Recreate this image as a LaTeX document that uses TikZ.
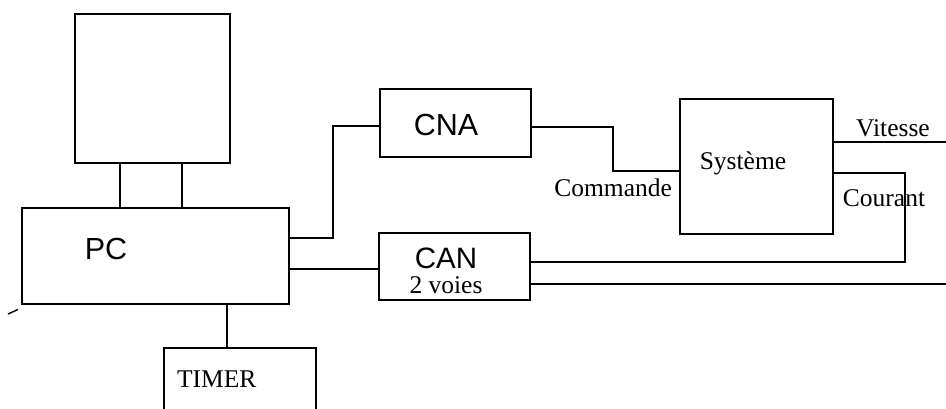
\documentclass[tikz,border=0pt]{standalone}
\usepackage{fontspec}
\setmainfont{Liberation Serif}
\newfontfamily\labsans{Liberation Sans}
\usetikzlibrary{calc}
\begin{document}
\begin{tikzpicture}[x=1pt,y=-1pt,
  line width=2.2pt,
  blk/.style={draw,rectangle,inner sep=0pt,outer sep=0pt},
  sanslbl/.style={font=\labsans\fontsize{30.5}{34}\selectfont,inner sep=0pt},
  seriflbl/.style={font=\fontsize{25.5}{29}\selectfont,inner sep=0pt}]
\useasboundingbox (0,0) rectangle (946,409);
\clip (0,0) rectangle (946,409);

% blocks
\node[blk,minimum width=155pt,minimum height=149pt] (mon) at (152.5,88.5) {};
\node[blk,minimum width=267pt,minimum height=96pt] (pc) at (155.5,256) {};
\node[blk,minimum width=152pt,minimum height=90pt] (timer) at (240,393) {};
\node[blk,minimum width=151pt,minimum height=68pt] (cna) at (455.5,123) {};
\node[blk,minimum width=151pt,minimum height=67pt] (can) at (454.5,266.5) {};
\node[blk,minimum width=153pt,minimum height=135pt] (sys) at (756.5,166.5) {};

% block texts
\node[sanslbl] (pctxt) at (106,249) {PC};
\node[seriflbl,anchor=west] (timertxt) at (176,379) {TIMER};
\node[sanslbl] (cnatxt) at (446,125) {CNA};
\node[sanslbl,font=\labsans\fontsize{29.5}{33}\selectfont,anchor=base,text depth=0pt] (cantxt) at (446,268) {CAN};
\node[seriflbl,anchor=base,text height=17pt,text depth=0pt] (voies) at (446,293) {2 voies};
\node[seriflbl] (systxt) at (743,163) {Système};

% monitor to PC
\coordinate (m1) at ($(mon.south west)!0.29!(mon.south east)$);
\coordinate (m2) at ($(mon.south west)!0.69!(mon.south east)$);
\draw (m1) -- (m1 |- pc.north);
\draw (m2) -- (m2 |- pc.north);

% PC to timer
\coordinate (t1) at ($(pc.south west)!0.768!(pc.south east)$);
\draw (t1) -- (t1 |- timer.north);

% PC to converters
\draw ([yshift=18pt]pc.east) -- ++(44,0) |- ([yshift=-3pt]cna.west);
\draw ([yshift=-13pt]pc.east) -- ([yshift=-13pt]pc.east -| can.west);

% command path
\draw ([yshift=-4pt]cna.east) -- ++(82,0) |- ([yshift=-4.5pt]sys.west);
\node[seriflbl,anchor=east] (cmd) at (673,188) {Commande};

% outputs
\coordinate (vend) at (946,142);
\draw ([yshift=24.5pt]sys.east) -- (vend);
\node[seriflbl] (vit) at (893,128) {Vitesse};
\draw ([yshift=-6.5pt]sys.east) -- ++(72,0) |- ([yshift=4.5pt]can.east);
\node[seriflbl] (cour) at (884,198) {Courant};
\coordinate (bend) at (946,284);
\draw ([yshift=-17.5pt]can.east) -- (bend);

% small stroke at the lower left
\draw[line width=1.4pt] (8,314) -- (18,309.5);
\end{tikzpicture}
\end{document}
